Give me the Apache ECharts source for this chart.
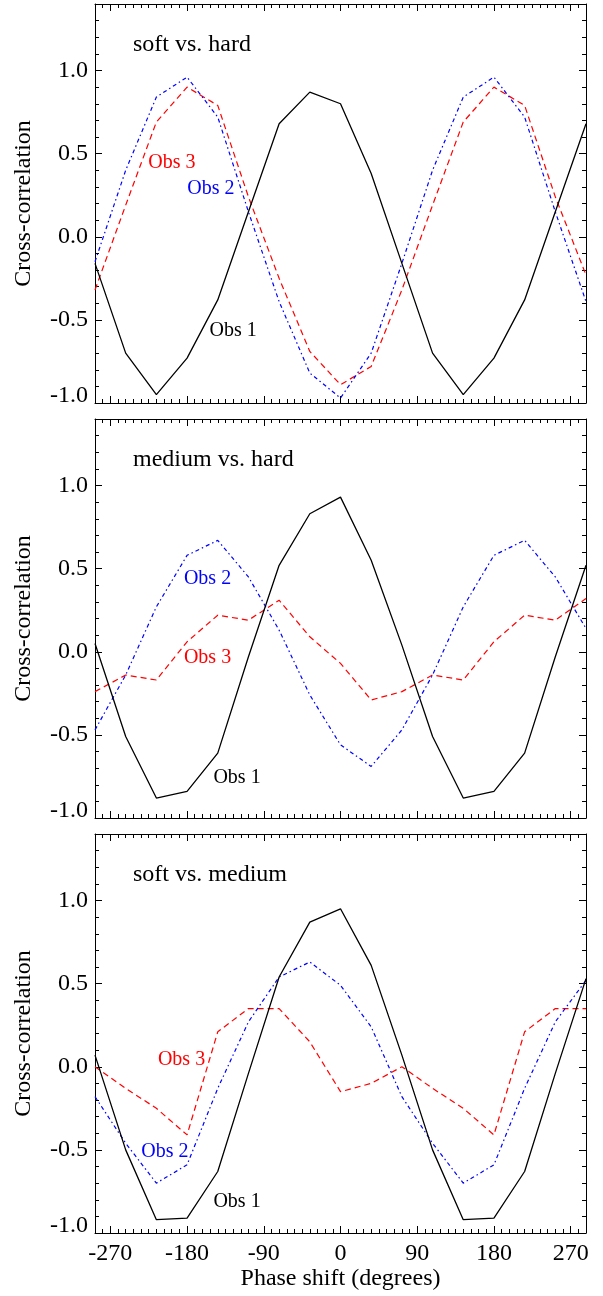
<!DOCTYPE html>
<html>
<head>
<meta charset="utf-8">
<script src="https://cdn.jsdelivr.net/npm/echarts@6/dist/echarts.min.js"></script>
<style>
html,body{margin:0;padding:0;background:#fff;}
#chart{width:603px;height:1296px;}
</style>
</head>
<body>
<div id="chart"></div>
<script>
// ---------- data ----------
const phase = [-288,-252,-216,-180,-144,-108,-72,-36,0,36,72,108,144,180,216,252,288];

const softHardObs1 = [-0.16,-0.70,-0.95,-0.73,-0.38,0.15,0.68,0.87,0.80,0.38,-0.16,-0.70,-0.95,-0.73,-0.38,0.15,0.68];
const softHardObs2 = [-0.15,0.40,0.84,0.96,0.72,0.15,-0.39,-0.82,-0.97,-0.70,-0.16,0.40,0.84,0.96,0.72,0.15,-0.39];
const softHardObs3 = [-0.32,0.19,0.69,0.90,0.79,0.24,-0.25,-0.69,-0.89,-0.78,-0.32,0.19,0.69,0.90,0.79,0.24,-0.23];

const medHardObs1 = [0.05,-0.51,-0.88,-0.84,-0.61,-0.03,0.52,0.83,0.93,0.55,0.04,-0.51,-0.88,-0.84,-0.61,-0.03,0.52];
const medHardObs2 = [-0.47,-0.14,0.27,0.58,0.67,0.45,0.13,-0.26,-0.56,-0.69,-0.47,-0.14,0.27,0.58,0.67,0.45,0.14];
const medHardObs3 = [-0.24,-0.14,-0.17,0.06,0.22,0.19,0.31,0.09,-0.07,-0.29,-0.24,-0.14,-0.17,0.06,0.22,0.19,0.32];

const softMedObs1 = [0.07,-0.50,-0.92,-0.91,-0.63,-0.04,0.54,0.87,0.95,0.61,0.07,-0.50,-0.92,-0.91,-0.63,-0.04,0.53];
const softMedObs2 = [-0.18,-0.46,-0.70,-0.59,-0.13,0.27,0.54,0.63,0.49,0.24,-0.18,-0.46,-0.70,-0.59,-0.13,0.27,0.52];
const softMedObs3 = [0.00,-0.13,-0.25,-0.41,0.21,0.35,0.35,0.15,-0.15,-0.10,0.00,-0.13,-0.25,-0.41,0.21,0.35,0.35];

const panelTitles = ['soft vs. hard','medium vs. hard','soft vs. medium'];
const seriesNames = ['Obs 1','Obs 2','Obs 3'];
const xTickLabels = [-270,-180,-90,0,90,180,270];
const yTickLabels = [-1.0,-0.5,0.0,0.5,1.0];
const xRange = [-288, 288];
const yRange = [-1.0, 1.4];
const xLabel = 'Phase shift (degrees)';
const yLabel = 'Cross-correlation';

// ---------- layout / style ----------
const FONT = "'Liberation Serif','Times New Roman',Times,serif";
const FS = 24;
const gridTops = [4, 419, 834];
const gridH = 399;
const gridLeft = 95, gridRight = 17;
const colors = ['#000000','#0000ff','#ff0000'];
const dashes = ['solid',[4,3,1.5,3],[6,4]];
const widths = [1.3,1.2,1.2];
// annotation positions in data coordinates
const labelPos = [
  [[-126,-0.567],[-152,0.287],[-197.7,0.443]],
  [[-121.4,-0.76],[-156,0.437],[-156,-0.038]],
  [[-121.4,-0.81],[-206,-0.51],[-186.5,0.04]]
];

const panelData = [
  [softHardObs1, softHardObs2, softHardObs3],
  [medHardObs1, medHardObs2, medHardObs3],
  [softMedObs1, softMedObs2, softMedObs3]
];

const xMinor = [];
for (let v = -279; v <= 279; v += 9) xMinor.push(v);
const yMinor = [];
for (let k = -9; k <= 13; k++) yMinor.push(+(k/10).toFixed(1));

const grids = [], xAxes = [], yAxes = [], series = [];
gridTops.forEach((top, g) => {
  grids.push({left: gridLeft, right: gridRight, top: top, height: gridH});
  const isBottom = g === gridTops.length - 1;
  ['bottom','top'].forEach(pos => {
    xAxes.push({
      type:'value', gridIndex:g, position:pos, min:xRange[0], max:xRange[1],
      axisLine:{show:true, onZero:false, lineStyle:{color:'#000', width:1}},
      axisTick:{show:true, inside:true, length:7, customValues:xTickLabels, lineStyle:{color:'#000',width:1}},
      axisLabel:{show: isBottom && pos==='bottom', customValues:xTickLabels, margin:9,
        fontFamily:FONT, fontSize:FS, color:'#000', formatter: v => String(v)},
      splitLine:{show:false}
    });
    xAxes.push({
      type:'value', gridIndex:g, position:pos, min:xRange[0], max:xRange[1],
      axisLine:{show:false, onZero:false},
      axisTick:{show:true, inside:true, length:4, customValues:xMinor, lineStyle:{color:'#000',width:1}},
      axisLabel:{show:false}, splitLine:{show:false}
    });
  });
  ['left','right'].forEach(pos => {
    yAxes.push({
      type:'value', gridIndex:g, position:pos, min:yRange[0], max:yRange[1],
      axisLine:{show:true, onZero:false, lineStyle:{color:'#000', width:1}},
      axisTick:{show:true, inside:true, length:7, customValues:yTickLabels, lineStyle:{color:'#000',width:1}},
      axisLabel:{show: pos==='left', customValues:yTickLabels, margin:7,
        fontFamily:FONT, fontSize:FS, color:'#000',
        formatter: v => (Math.abs(v+1) < 1e-9 ? '{lo|' + v.toFixed(1) + '}' : v.toFixed(1)),
        rich:{lo:{fontFamily:FONT, fontSize:FS, color:'#000', padding:[0,0,15,0]}}},
      splitLine:{show:false}
    });
    yAxes.push({
      type:'value', gridIndex:g, position:pos, min:yRange[0], max:yRange[1],
      axisLine:{show:false, onZero:false},
      axisTick:{show:true, inside:true, length:4, customValues:yMinor, lineStyle:{color:'#000',width:1}},
      axisLabel:{show:false}, splitLine:{show:false}
    });
  });
  panelData[g].forEach((vals, s) => {
    series.push({
      type:'line', name: seriesNames[s] + ' ' + g,
      xAxisIndex: g*4, yAxisIndex: g*4,
      data: phase.map((p,i) => [p, vals[i]]),
      symbol:'none', animation:false, silent:true,
      lineStyle:{color:colors[s], width:widths[s], type:dashes[s]},
      z: 3 - s
    });
  });
});

const chart = echarts.init(document.getElementById('chart'), null, {renderer:'canvas'});
const graphics = [];
gridTops.forEach((top, g) => {
  graphics.push({type:'text', style:{text:panelTitles[g], x:133, y:top+41,
    font:FS + 'px ' + FONT, fill:'#000', textAlign:'left', textVerticalAlign:'middle'}});
  graphics.push({type:'text', rotation:Math.PI/2, x:24, y:top+gridH/2,
    style:{text:yLabel, x:0, y:0, font:FS + 'px ' + FONT, fill:'#000', textAlign:'center', textVerticalAlign:'middle'}});
});
graphics.push({type:'text', style:{text:xLabel, x:gridLeft + (603-gridLeft-gridRight)/2, y:1279,
  font:FS + 'px ' + FONT, fill:'#000', textAlign:'center', textVerticalAlign:'middle'}});

chart.setOption({
  animation:false,
  backgroundColor:'#fff',
  grid: grids, xAxis: xAxes, yAxis: yAxes, series: series,
  graphic: graphics
});

const labelGraphics = [];
labelPos.forEach((pp, g) => {
  pp.forEach((p, s) => {
    const px = chart.convertToPixel({xAxisIndex: g*4, yAxisIndex: g*4}, p);
    labelGraphics.push({type:'text', style:{text:seriesNames[s], x:px[0], y:px[1],
      font:'20px ' + FONT, fill:colors[s], textAlign:'center', textVerticalAlign:'middle'}});
  });
});
chart.setOption({graphic: graphics.concat(labelGraphics)});
</script>
</body>
</html>
